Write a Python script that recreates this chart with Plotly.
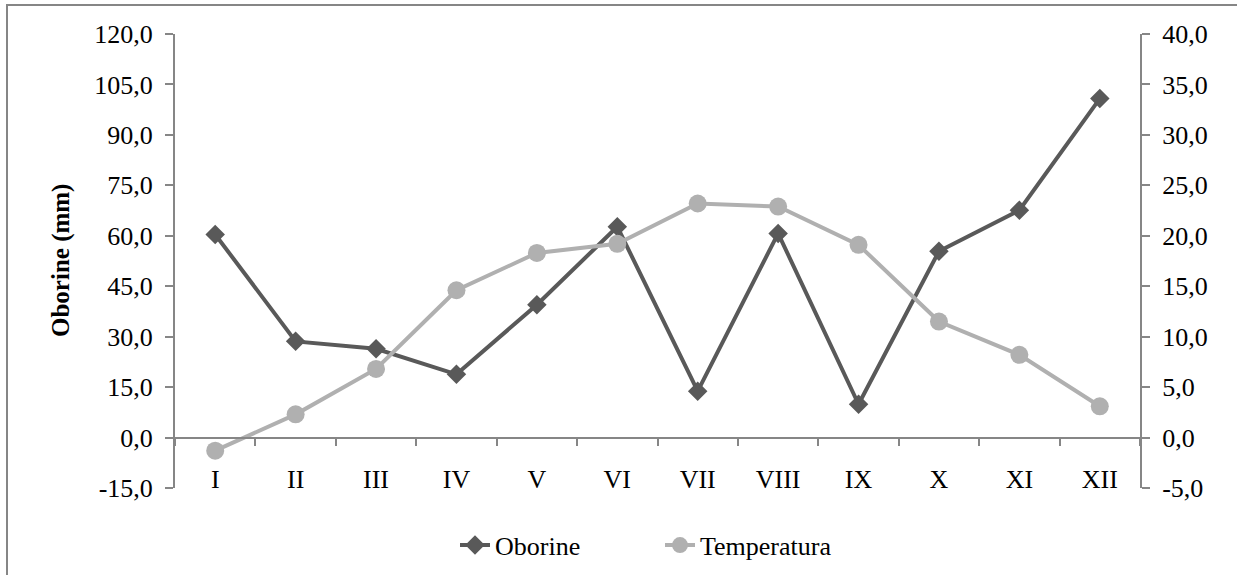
import plotly.graph_objects as go

months = ["I", "II", "III", "IV", "V", "VI", "VII", "VIII", "IX", "X", "XI", "XII"]
oborine = [60.4, 28.6, 26.4, 18.8, 39.5, 62.7, 13.8, 60.7, 9.9, 55.4, 67.6, 100.8]
temperatura = [-1.3, 2.3, 6.8, 14.6, 18.3, 19.2, 23.2, 22.9, 19.1, 11.5, 8.2, 3.1]

left_ticks = [-15, 0, 15, 30, 45, 60, 75, 90, 105, 120]
right_ticks = [-5, 0, 5, 10, 15, 20, 25, 30, 35, 40]


def fmt(v):
    return f"{v:.1f}".replace(".", ",")


FONT = "Liberation Serif"
AX = "#868686"
FS = 26

fig = go.Figure()
fig.add_trace(go.Scatter(
    x=months, y=oborine, name="Oborine", mode="lines+markers",
    line=dict(color="#595959", width=4),
    marker=dict(symbol="diamond", size=15, color="#595959"),
    yaxis="y",
))
fig.add_trace(go.Scatter(
    x=months, y=temperatura, name="Temperatura", mode="lines+markers",
    line=dict(color="#B0B0B0", width=4),
    marker=dict(symbol="circle", size=18, color="#B0B0B0"),
    yaxis="y2",
))

fig.update_layout(
    width=1237, height=575,
    margin=dict(l=175, r=97, t=34, b=87, autoexpand=False),
    paper_bgcolor="white", plot_bgcolor="white",
    font=dict(family=FONT, size=FS, color="black"),
    showlegend=True,
    legend=dict(orientation="h", x=(455 - 175) / 965, xanchor="left", y=-0.126, yanchor="middle",
                entrywidth=160, entrywidthmode="pixels",
                font=dict(family=FONT, size=FS, color="black"), bgcolor="rgba(0,0,0,0)"),
    xaxis=dict(
        type="category", categoryorder="array", categoryarray=months,
        range=[-0.5, 11.5], anchor="free", position=15 / 135,
        showline=True, linecolor=AX, linewidth=2,
        ticks="outside", ticklen=7, tickcolor=AX, tickwidth=2, tickson="boundaries",
        ticklabelstandoff=18, showgrid=False, zeroline=False,
        tickfont=dict(family=FONT, size=FS, color="black"),
    ),
    yaxis=dict(
        range=[-15, 120], tickvals=left_ticks, ticktext=[fmt(v) for v in left_ticks],
        showline=True, linecolor=AX, linewidth=2,
        ticks="outside", ticklen=8, tickcolor=AX, tickwidth=2, ticklabelstandoff=7,
        showgrid=False, zeroline=False,
        tickfont=dict(family=FONT, size=FS, color="black"),
    ),
    yaxis2=dict(
        range=[-5, 40], tickvals=right_ticks, ticktext=[fmt(v) for v in right_ticks],
        overlaying="y", side="right", anchor="x",
        showline=True, linecolor=AX, linewidth=2,
        ticks="outside", ticklen=8, tickcolor=AX, tickwidth=2, ticklabelstandoff=7,
        showgrid=False, zeroline=False,
        tickfont=dict(family=FONT, size=FS, color="black"),
    ),
    annotations=[dict(
        text="<b>Oborine (mm)</b>", textangle=-90, xref="paper", yref="paper",
        x=(61 - 175) / 965, y=0.5, xanchor="center", yanchor="middle", showarrow=False,
        font=dict(family=FONT, size=25, color="black"),
    )],
    shapes=[dict(
        type="rect", xref="paper", yref="paper",
        x0=(7 - 175) / 965, x1=1.3, y0=-0.4, y1=(488 - 5) / 454,
        line=dict(color=AX, width=2), fillcolor="rgba(0,0,0,0)", layer="below",
    )],
)

fig.write_html("out.html")
